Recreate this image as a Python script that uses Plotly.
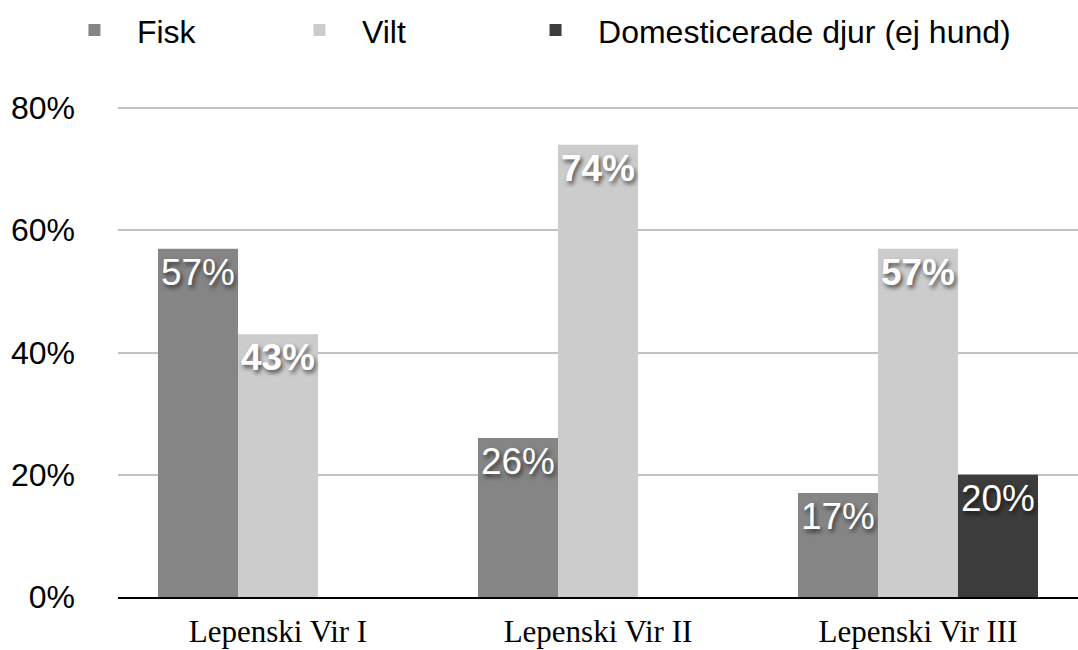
import plotly.graph_objects as go

categories = ["Lepenski Vir I", "Lepenski Vir II", "Lepenski Vir III"]
fisk = [57, 26, 17]
vilt = [43, 74, 57]
domest = [0, 0, 20]
series_names = ["Fisk", "Vilt", "Domesticerade djur (ej hund)"]
colors = ["#848584", "#cbcccb", "#3b3c3b"]
y_ticks = [0, 20, 40, 60, 80]
y_tick_labels = ["0%", "20%", "40%", "60%", "80%"]

shadow = "2px 3px 4px rgba(0,0,0,0.6)"
legend_ids = ["legend", "legend2", "legend3"]
legend_x = [-0.0688, 0.1656, 0.4115]

fig = go.Figure()
for name, vals, col, bold, lg in zip(series_names, [fisk, vilt, domest], colors,
                                     [False, True, False], legend_ids):
    fig.add_trace(go.Bar(
        x=categories, y=vals, name=name, legend=lg,
        marker=dict(color=col, line=dict(width=0)),
        text=[f"{v}%" if v > 0 else "" for v in vals],
        textposition="inside", insidetextanchor="end",
        textangle=0,
        textfont=dict(family="Liberation Sans", size=37, color="white",
                      weight="bold" if bold else "normal", shadow=shadow),
        hoverinfo="skip",
    ))

legend_common = dict(orientation="h", xanchor="left", y=1.152, yanchor="middle",
                     font=dict(family="Liberation Sans", size=32, color="black"),
                     itemwidth=75, bgcolor="rgba(0,0,0,0)")

fig.update_layout(
    width=1078, height=650,
    margin=dict(l=118, r=0, t=105, b=53, autoexpand=False),
    paper_bgcolor="white", plot_bgcolor="white",
    barmode="group", bargap=0.25, bargroupgap=0,
    uniformtext=dict(minsize=20, mode="show"),
    showlegend=True,
    legend=dict(x=legend_x[0], **legend_common),
    legend2=dict(x=legend_x[1], **legend_common),
    legend3=dict(x=legend_x[2], **legend_common),
    font=dict(family="Liberation Sans", color="black"),
)
fig.update_yaxes(range=[0, 80.5], tickvals=y_ticks, ticktext=y_tick_labels,
                 showgrid=True, gridcolor="#c2c2c2", gridwidth=2,
                 zeroline=False, showline=False, ticks="", automargin=False,
                 tickfont=dict(family="Liberation Sans", size=32, color="black"),
                 ticklabelstandoff=42)
fig.update_xaxes(showline=True, linecolor="black", linewidth=2, ticks="",
                 automargin=False,
                 tickfont=dict(family="Liberation Serif", size=31, color="black"),
                 ticklabelstandoff=6)

fig.write_html("out.html", config={"displayModeBar": False},
               post_script="document.body.style.margin='0';document.body.style.overflow='hidden';")
